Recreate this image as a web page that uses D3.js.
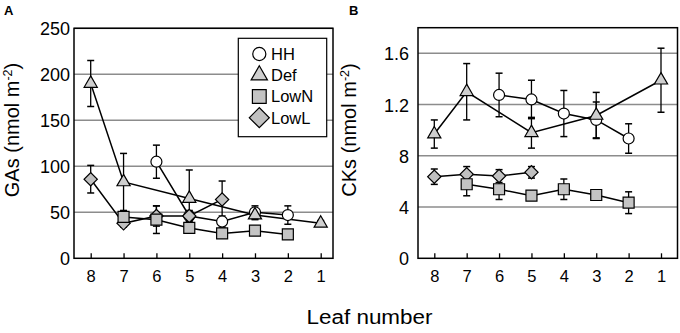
<!DOCTYPE html>
<html>
<head>
<meta charset="utf-8">
<script src="https://cdn.jsdelivr.net/npm/d3@7"></script>
<style>
  html, body { margin: 0; padding: 0; background: #fff; }
  svg { display: block; font-family: "Liberation Sans", Arial, sans-serif; }
</style>
</head>
<body>
<svg id="chart" width="680" height="333"></svg>
<script>
// ---------- data ----------
const leafNumbers = ["8", "7", "6", "5", "4", "3", "2", "1"];
const seriesNames = ["HH", "Def", "LowN", "LowL"];

// Panel A: GAs (nmol m-2)
const gasHH      = [null, null, 105, 46, 40, 50, 47, null];
const gasHHErr   = [null, null, 18, 5, 6, 7, 10, null];
const gasDef     = [190, 83, null, 65, null, 47, null, 38];
const gasDefErr  = [25, 31, null, 31, null, 5, null, 3];
const gasLowN    = [null, 45, 42, 33, 27, 30, 26, null];
const gasLowNErr = [null, 6, 15, 4, 4, 3, 3, null];
const gasLowL    = [86, 38, 46, 46, 64, null, null, null];
const gasLowLErr = [15, 4, 11, 6, 20, null, null, null];
const gasTickValues = [0, 50, 100, 150, 200, 250];
const gasTickLabels = ["0", "50", "100", "150", "200", "250"];

// Panel B: CKs (nmol m-2)
const ckHH      = [null, null, 1.275, 1.24, 1.13, 1.08, 0.935, null];
const ckHHErr   = [null, null, 0.17, 0.15, 0.18, 0.14, 0.115, null];
const ckDef     = [0.97, 1.30, null, 0.98, null, 1.115, null, 1.39];
const ckDefErr  = [0.11, 0.22, null, 0.12, null, 0.18, null, 0.25];
const ckLowN    = [null, 0.578, 0.539, 0.489, 0.539, 0.494, 0.434, null];
const ckLowNErr = [null, 0.09, 0.08, 0.02, 0.08, 0.02, 0.085, null];
const ckLowL    = [0.637, 0.656, 0.642, 0.671, null, null, null, null];
const ckLowLErr = [0.06, 0.06, 0.05, 0.045, null, null, null, null];
const ckTickValues = [0, 0.4, 0.8, 1.2, 1.6];
const ckTickLabels = ["0", "4", "8", "1.2", "1.6"];

// ---------- styling ----------
const markerFill = { HH: "#ffffff", Def: "#cfcfcf", LowN: "#c4c4c4", LowL: "#c0c0c0" };
const plotSize = { HH: 95, Def: 75, LowN: 121, LowL: 88 };
const legendSize = { HH: 135, Def: 115, LowN: 190, LowL: 200 };

function symbolPath(name, size) {
  if (name === "HH") return d3.symbol(d3.symbolCircle, size)();
  if (name === "Def") return d3.symbol(d3.symbolTriangle, size)();
  return d3.symbol(d3.symbolSquare, size)();
}
function symbolRotate(name) { return name === "LowL" ? " rotate(45)" : ""; }

const svg = d3.select("#chart");

function panel(cfg) {
  const g = svg.append("g");
  const x = d3.scalePoint().domain(leafNumbers).range(cfg.xRange);
  const y = d3.scaleLinear().domain(cfg.yDomain).range([cfg.frame.bottom, cfg.frame.top]);

  // gridlines
  g.append("g").selectAll("line")
    .data(cfg.tickValues.filter(v => v > 0))
    .join("line")
    .attr("x1", cfg.frame.left).attr("x2", cfg.frame.right)
    .attr("y1", d => y(d)).attr("y2", d => y(d))
    .attr("stroke", "#8c8c8c").attr("stroke-width", 1.4);

  // y axis labels
  const yAxis = d3.axisLeft(y).tickValues(cfg.tickValues)
    .tickFormat((d, i) => cfg.tickLabels[i]).tickSize(0).tickPadding(0);
  const ya = g.append("g").attr("transform", `translate(${cfg.yLabelX},0)`).call(yAxis);
  ya.select(".domain").remove();
  ya.selectAll("text").attr("font-size", 18).attr("fill", "#000")
    .attr("font-family", "Liberation Sans, Arial, sans-serif").attr("dy", "0.36em");

  // x axis (ticks inward)
  const xAxis = d3.axisBottom(x).tickSizeInner(-5).tickSizeOuter(0).tickPadding(12);
  const xa = g.append("g").attr("transform", `translate(0,${cfg.frame.bottom})`).call(xAxis);
  xa.select(".domain").remove();
  xa.selectAll("line").attr("stroke", "#000").attr("stroke-width", 1.3);
  xa.selectAll("text").attr("font-size", 16.5).attr("fill", "#000")
    .attr("font-family", "Liberation Sans, Arial, sans-serif");

  // frame
  g.append("rect")
    .attr("x", cfg.frame.left).attr("y", cfg.frame.top)
    .attr("width", cfg.frame.right - cfg.frame.left)
    .attr("height", cfg.frame.bottom - cfg.frame.top)
    .attr("fill", "none").attr("stroke", "#000").attr("stroke-width", 1.5);

  const series = cfg.series.map(s => ({
    name: s.name,
    pts: leafNumbers.map((l, i) => ({ leaf: l, v: s.values[i], e: s.errors[i] }))
      .filter(p => p.v !== null)
  }));

  // error bars
  const capW = 3.5;
  series.forEach(s => {
    const eg = g.append("g");
    s.pts.filter(p => p.e).forEach(p => {
      const cx = x(p.leaf), y1 = y(p.v + p.e), y0 = y(p.v - p.e);
      eg.append("line").attr("x1", cx).attr("x2", cx).attr("y1", y1).attr("y2", y0)
        .attr("stroke", "#000").attr("stroke-width", 1.3);
      [y1, y0].forEach(yy => eg.append("line")
        .attr("x1", cx - capW).attr("x2", cx + capW).attr("y1", yy).attr("y2", yy)
        .attr("stroke", "#000").attr("stroke-width", 1.5));
    });
  });

  // lines
  const line = d3.line().x(p => x(p.leaf)).y(p => y(p.v));
  series.forEach(s => {
    g.append("path").attr("d", line(s.pts))
      .attr("fill", "none").attr("stroke", "#000").attr("stroke-width", 1.5);
  });

  // markers
  series.forEach(s => {
    g.append("g").selectAll("path").data(s.pts).join("path")
      .attr("d", symbolPath(s.name, plotSize[s.name]))
      .attr("transform", p => `translate(${x(p.leaf)},${y(p.v)})` + symbolRotate(s.name))
      .attr("fill", markerFill[s.name]).attr("stroke", "#000").attr("stroke-width", 1.2);
  });

  // y title
  const t = g.append("text")
    .attr("transform", `translate(${cfg.titleX},${cfg.titleY}) rotate(-90)`)
    .attr("text-anchor", "middle").attr("font-size", 20).attr("fill", "#000");
  t.append("tspan").text(cfg.title + " (nmol m");
  t.append("tspan").attr("font-size", 12.5).attr("dy", -7.5).text("-2");
  t.append("tspan").attr("dy", 7.5).text(")");

  // panel letter
  g.append("text").attr("x", cfg.letterX).attr("y", 15)
    .attr("font-size", 13).attr("font-weight", "bold").attr("fill", "#000").text(cfg.letter);

  return { g, x, y };
}

panel({
  letter: "A", letterX: 4,
  frame: { left: 74, right: 333, top: 28.3, bottom: 258.3 },
  xRange: [90.7, 320.7],
  yDomain: [0, 250],
  tickValues: gasTickValues, tickLabels: gasTickLabels,
  yLabelX: 70, title: "GAs", titleX: 19, titleY: 130,
  series: [
    { name: "HH", values: gasHH, errors: gasHHErr },
    { name: "Def", values: gasDef, errors: gasDefErr },
    { name: "LowL", values: gasLowL, errors: gasLowLErr },
    { name: "LowN", values: gasLowN, errors: gasLowNErr }
  ]
});

panel({
  letter: "B", letterX: 349,
  frame: { left: 418, right: 677.5, top: 27.7, bottom: 258.3 },
  xRange: [434.3, 661],
  yDomain: [0, 1.8],
  tickValues: ckTickValues, tickLabels: ckTickLabels,
  yLabelX: 409, title: "CKs", titleX: 356, titleY: 130,
  series: [
    { name: "HH", values: ckHH, errors: ckHHErr },
    { name: "Def", values: ckDef, errors: ckDefErr },
    { name: "LowL", values: ckLowL, errors: ckLowLErr },
    { name: "LowN", values: ckLowN, errors: ckLowNErr }
  ]
});

// legend (panel A)
const lg = svg.append("g");
lg.append("rect").attr("x", 238.3).attr("y", 38.3).attr("width", 88.4).attr("height", 98.4)
  .attr("fill", "#fff").attr("stroke", "#000").attr("stroke-width", 1.2);
const legY = d3.scalePoint().domain(seriesNames).range([54, 117.7]);
seriesNames.forEach(n => {
  lg.append("path").attr("d", symbolPath(n, legendSize[n]))
    .attr("transform", `translate(259.3,${legY(n)})` + symbolRotate(n))
    .attr("fill", markerFill[n]).attr("stroke", "#000").attr("stroke-width", 1.2);
  lg.append("text").attr("x", 271).attr("y", legY(n)).attr("dy", "0.36em")
    .attr("font-size", 16.5).attr("fill", "#000").text(n);
});

// x title
svg.append("text").attr("x", 369.5).attr("y", 324).attr("text-anchor", "middle")
  .attr("font-size", 20).attr("textLength", 126).attr("lengthAdjust", "spacingAndGlyphs")
  .attr("fill", "#000").text("Leaf number");
</script>
</body>
</html>
